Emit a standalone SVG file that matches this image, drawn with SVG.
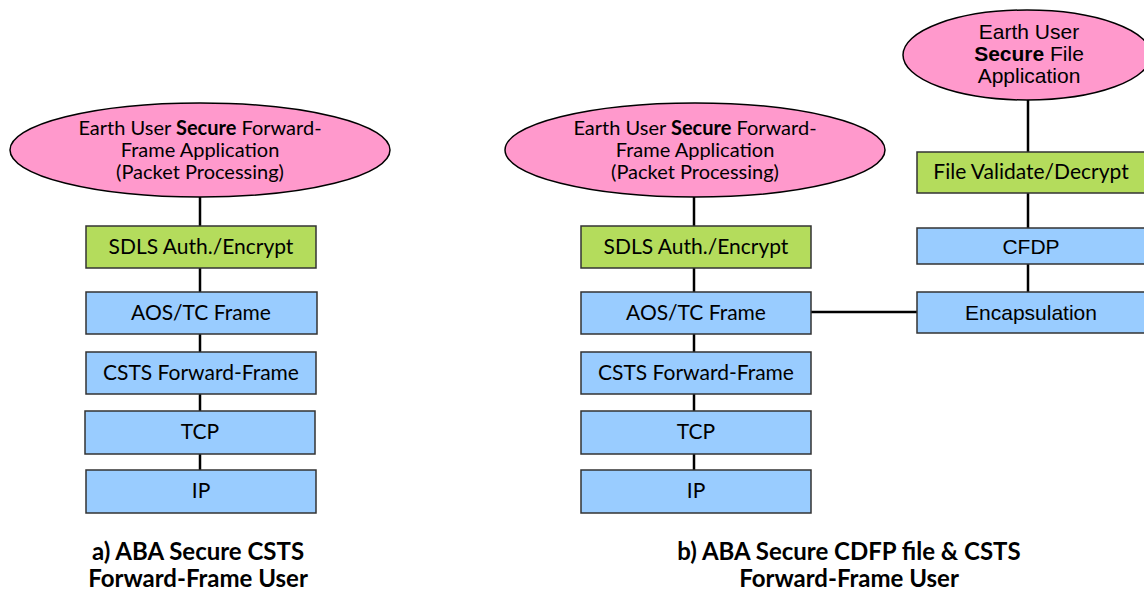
<svg xmlns="http://www.w3.org/2000/svg" width="1144" height="597" viewBox="0 0 1144 597">
<style>
.ell{fill:#FF99CC;stroke:#000;stroke-width:1.5}
.g{fill:#B4DC5C;stroke:#333;stroke-width:1.5}
.b{fill:#99CCFF;stroke:#333;stroke-width:1.5}
.t{font-family:Lato,"Liberation Sans",sans-serif;font-size:21px;fill:#000;text-anchor:middle}
.e{font-family:Lato,"Liberation Sans",sans-serif;font-size:20px;fill:#000;text-anchor:middle}
.a{font-family:"Liberation Sans",Arial,sans-serif;font-size:21px;fill:#000;text-anchor:middle}
.cap{font-family:Lato,"Liberation Sans",sans-serif;font-size:24px;font-weight:bold;fill:#000;text-anchor:middle}
.c{stroke:#000;stroke-width:2.5;fill:none}
</style>
<rect width="1144" height="597" fill="#fff"/>
<g id="connectors">
<line class="c" x1="200" y1="197" x2="200" y2="226"/>
<line class="c" x1="200" y1="268" x2="200" y2="292"/>
<line class="c" x1="200" y1="334" x2="200" y2="352"/>
<line class="c" x1="200" y1="394" x2="200" y2="411"/>
<line class="c" x1="200" y1="454" x2="200" y2="470"/>
<line class="c" x1="694" y1="197" x2="694" y2="226"/>
<line class="c" x1="694" y1="268" x2="694" y2="292"/>
<line class="c" x1="694" y1="334" x2="694" y2="352"/>
<line class="c" x1="694" y1="394" x2="694" y2="411"/>
<line class="c" x1="694" y1="454" x2="694" y2="470"/>
<line class="c" x1="1028" y1="100" x2="1028" y2="152"/>
<line class="c" x1="1028" y1="193" x2="1028" y2="228"/>
<line class="c" x1="1028" y1="264" x2="1028" y2="292"/>
<line class="c" x1="811" y1="312" x2="917" y2="312"/>
</g>
<g id="a-app">
<ellipse class="ell" cx="200" cy="150" rx="190" ry="47"/>
<text class="e" x="200" y="135">Earth User <tspan font-weight="bold">Secure</tspan> Forward-</text>
<text class="e" x="200" y="157">Frame Application</text>
<text class="e" x="200" y="179">(Packet Processing)</text>
</g>
<g id="a-sdls"><rect class="g" x="86" y="226" width="230" height="42"/><text class="t" x="201" y="254">SDLS Auth./Encrypt</text></g>
<g id="a-aos"><rect class="b" x="86" y="292" width="231" height="42"/><text class="t" x="201" y="320">AOS/TC Frame</text></g>
<g id="a-csts"><rect class="b" x="86" y="352" width="230" height="42"/><text class="t" x="201" y="380">CSTS Forward-Frame</text></g>
<g id="a-tcp"><rect class="b" x="85" y="411" width="230" height="43"/><text class="t" x="200" y="439">TCP</text></g>
<g id="a-ip"><rect class="b" x="86" y="470" width="230" height="43"/><text class="t" x="201" y="498">IP</text></g>
<g id="b-app">
<ellipse class="ell" cx="695" cy="150" rx="190" ry="47"/>
<text class="e" x="695" y="135">Earth User <tspan font-weight="bold">Secure</tspan> Forward-</text>
<text class="e" x="695" y="157">Frame Application</text>
<text class="e" x="695" y="179">(Packet Processing)</text>
</g>
<g id="b-sdls"><rect class="g" x="581" y="226" width="230" height="42"/><text class="t" x="696" y="254">SDLS Auth./Encrypt</text></g>
<g id="b-aos"><rect class="b" x="581" y="292" width="230" height="42"/><text class="t" x="696" y="320">AOS/TC Frame</text></g>
<g id="b-csts"><rect class="b" x="581" y="352" width="230" height="42"/><text class="t" x="696" y="380">CSTS Forward-Frame</text></g>
<g id="b-tcp"><rect class="b" x="581" y="411" width="230" height="43"/><text class="t" x="696" y="439">TCP</text></g>
<g id="b-ip"><rect class="b" x="581" y="470" width="230" height="43"/><text class="t" x="696" y="498">IP</text></g>
<g id="file-app">
<ellipse class="ell" cx="1027" cy="55" rx="124" ry="45"/>
<text class="a" x="1029" y="39">Earth User</text>
<text class="a" x="1029" y="61"><tspan font-weight="bold">Secure</tspan> File</text>
<text class="a" x="1029" y="83">Application</text>
</g>
<g id="file-val"><rect class="g" x="917" y="152" width="232" height="41"/><text class="t" x="1031" y="179">File Validate/Decrypt</text></g>
<g id="cfdp"><rect class="b" x="917" y="228" width="232" height="36"/><text class="a" x="1031" y="254">CFDP</text></g>
<g id="encap"><rect class="b" x="917" y="292" width="232" height="41"/><text class="a" x="1031" y="320">Encapsulation</text></g>
<g id="captions">
<text class="cap" x="198" y="560">a) ABA Secure CSTS</text>
<text class="cap" x="198" y="587">Forward-Frame User</text>
<text class="cap" x="849" y="560">b) ABA Secure CDFP file &amp; CSTS</text>
<text class="cap" x="849" y="587">Forward-Frame User</text>
</g>
</svg>
